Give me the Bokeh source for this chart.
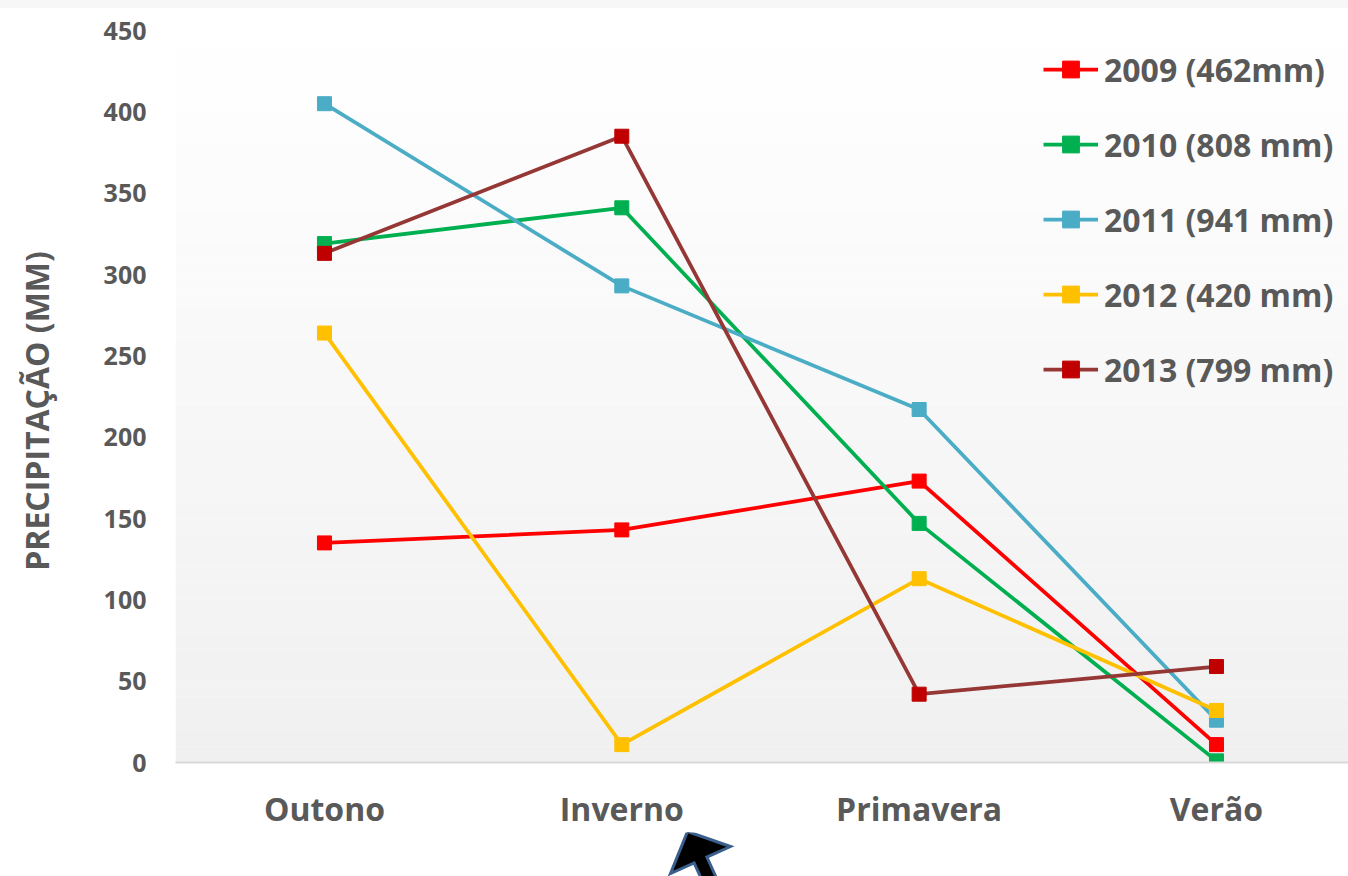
import math
from bokeh.plotting import figure, gridplot
from bokeh.layouts import column
from bokeh.models import (Range1d, FixedTicker, Legend, LegendItem,
                          BoxAnnotation, Spacer)
from bokeh.core.properties import value
from bokeh.embed import file_html
from bokeh.resources import INLINE

# Seasonal precipitation (mm) per year
seasons = ["Outono", "Inverno", "Primavera", "Verão"]
series_labels = ["2009 (462mm)", "2010 (808 mm)", "2011 (941 mm)",
                 "2012 (420 mm)", "2013 (799 mm)"]
rain_2009 = [135, 143, 173, 11]
rain_2010 = [319, 341, 147, 1]
rain_2011 = [405, 293, 217, 26]
rain_2012 = [264, 11, 113, 32]
rain_2013 = [313, 385, 42, 59]
y_ticks = [0, 50, 100, 150, 200, 250, 300, 350, 400, 450]
y_title = "PRECIPITAÇÃO (MM)"

series_values = [rain_2009, rain_2010, rain_2011, rain_2012, rain_2013]
line_colors = ["#ff0000", "#00b050", "#4bacc6", "#ffc000", "#953735"]
marker_colors = ["#ff0000", "#00b050", "#4bacc6", "#ffc000", "#c00000"]

TEXT = "#595959"
FONT = "Open Sans"
W = 1348
TITLE_W = 70          # column holding the vertical axis title
LEFT = 175            # page x of the plot frame's left edge
TOP, BOTTOM = 22, 69  # borders around the plot frame

x_pos = list(range(len(seasons)))

p = figure(width=W - TITLE_W, height=824,
           x_range=Range1d(-0.501, 3.444), y_range=Range1d(0, 450),
           output_backend="svg", toolbar_location=None,
           min_border_left=LEFT - TITLE_W, min_border_right=0,
           min_border_top=TOP, min_border_bottom=BOTTOM)
p.outline_line_color = None
p.background_fill_color = "#ffffff"
p.border_fill_color = "#ffffff"
p.xgrid.visible = False
p.ygrid.visible = False

# vertical gradient of the plot area: white at the top, light grey at the bottom
n_bands = 45
for i in range(n_bands):
    shade = round(240 + 15 * (i + 0.5) / n_bands)
    p.add_layout(BoxAnnotation(bottom=450 * i / n_bands, top=450 * (i + 1) / n_bands,
                               fill_color=(shade, shade, shade), fill_alpha=1.0,
                               line_color=None, level="underlay"))

items = []
for label, vals, lc, mc in zip(series_labels, series_values, line_colors, marker_colors):
    r_line = p.line(x_pos, vals, line_width=3.75, line_color=lc)
    r_mark = p.scatter(x_pos, vals, marker="square", size=14,
                       fill_color=mc, line_color=mc)
    items.append(LegendItem(label=label, renderers=[r_line, r_mark]))

legend = Legend(items=items, location=(868, 371),
                glyph_width=55, glyph_height=42, label_height=44,
                spacing=31, padding=0, margin=0, label_standoff=6,
                background_fill_alpha=0, border_line_color=None,
                label_text_font=FONT, label_text_font_style="bold",
                label_text_font_size="32px", label_text_color=TEXT)
p.add_layout(legend)

# x axis: season names
xa = p.xaxis[0]
xa.ticker = FixedTicker(ticks=x_pos)
xa.major_label_overrides = {i: s for i, s in enumerate(seasons)}
xa.axis_line_color = "#d9d9d9"
xa.axis_line_width = 2
xa.major_tick_line_color = None
xa.minor_tick_line_color = None
xa.major_label_standoff = 18
xa.major_label_text_font = FONT
xa.major_label_text_font_style = "bold"
xa.major_label_text_font_size = "32px"
xa.major_label_text_color = TEXT

# y axis: precipitation
ya = p.yaxis[0]
ya.ticker = FixedTicker(ticks=y_ticks)
ya.axis_line_color = None
ya.major_tick_line_color = None
ya.minor_tick_line_color = None
ya.major_label_standoff = 23
ya.major_label_text_font = FONT
ya.major_label_text_font_style = "bold"
ya.major_label_text_font_size = "25px"
ya.major_label_text_color = TEXT


def blank_panel(width, height, x_range, y_range, **borders):
    f = figure(width=width, height=height, x_range=x_range, y_range=y_range,
               output_backend="svg", toolbar_location=None,
               x_axis_location=None, y_axis_location=None, **borders)
    f.outline_line_color = None
    f.background_fill_color = "#ffffff"
    f.border_fill_color = "#ffffff"
    f.xgrid.visible = False
    f.ygrid.visible = False
    return f


# vertical axis title; frame matches the plot frame, y in page pixels
title_fig = blank_panel(TITLE_W, 824, Range1d(0, TITLE_W), Range1d(763, 30),
                        min_border_left=0, min_border_right=0,
                        min_border_top=TOP, min_border_bottom=BOTTOM)
title_fig.text(x=[36], y=[411], text=[y_title], angle=math.pi / 2,
               text_align="center", text_baseline="middle",
               text_font=value(FONT), text_font_style="bold",
               text_font_size="32px", text_color=TEXT)

# strip below the chart holding the mouse pointer arrow (page pixels)
arrow_fig = blank_panel(W - TITLE_W, 44, Range1d(LEFT, W), Range1d(876, 832),
                        min_border_left=LEFT - TITLE_W, min_border_right=0,
                        min_border_top=0, min_border_bottom=0)
arrow_fig.patch([687, 730, 706.4, 726.6, 713.8, 693.6, 670],
                [831, 846, 856.6, 900.9, 906.7, 862.4, 873],
                fill_color="#000000", line_color="#3b5f8c",
                line_width=3, line_join="miter")

grid = gridplot([[title_fig, p], [None, arrow_fig]], toolbar_location=None)

top_strip = Spacer(width=W, height=8, styles={"background-color": "#f7f7f7"})

layout = column(top_strip, grid, spacing=0)

open("out.html", "w").write(file_html(layout, INLINE))
